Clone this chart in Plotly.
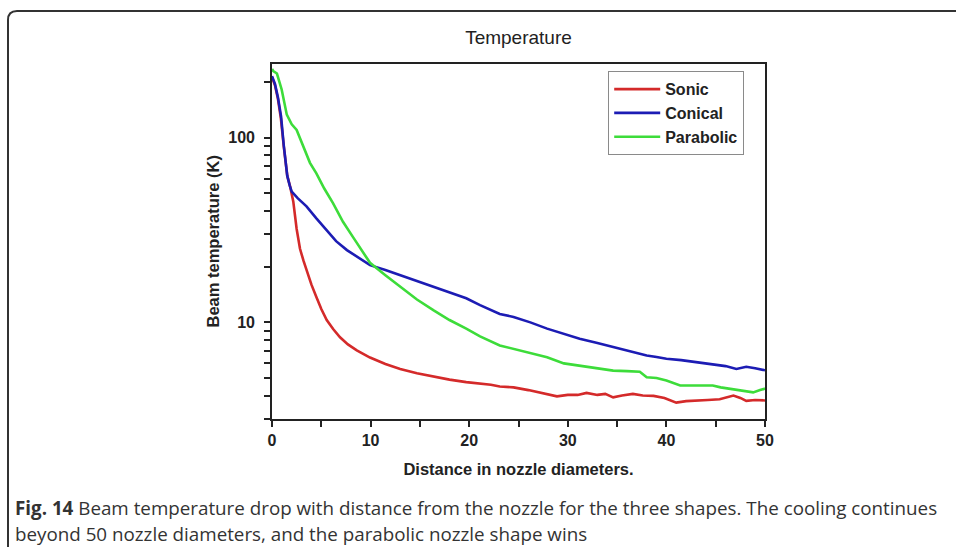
import plotly.graph_objects as go
import math

# ---------------- data ----------------
sonic_x = [0, 0.3, 0.6, 0.9, 1.2, 1.55, 1.85, 2.16, 2.5, 2.84, 3.2, 3.52, 4.0, 4.53, 5.0,
           5.55, 6.2, 6.9, 7.7, 8.6, 9.3, 9.94, 11.5, 13, 14.7, 16.4, 18, 19.7, 21.1, 22.2,
           23.1, 24.5, 26, 27.2, 27.9, 28.9, 30, 31, 31.9, 33, 33.8, 34.6, 35.5, 36.6, 37.6,
           38.7, 39.8, 40.5, 41.0, 42, 43.1, 44.2, 45.4, 46.2, 46.8, 47.5, 48.1, 49, 49.8, 50]
sonic_y = [212, 192, 162, 127, 89, 62, 54, 45, 32, 25, 21.5, 19, 16, 13.6, 11.8,
           10.3, 9.2, 8.3, 7.6, 7.05, 6.7, 6.45, 5.95, 5.6, 5.3, 5.08, 4.9, 4.75, 4.66, 4.6,
           4.5, 4.45, 4.3, 4.15, 4.1, 3.98, 4.05, 4.05, 4.15, 4.05, 4.1, 3.93, 4.02, 4.1, 4.02,
           4.0, 3.9, 3.75, 3.68, 3.75, 3.76, 3.8, 3.84, 3.95, 4.02, 3.9, 3.76, 3.8, 3.76, 3.78]

conical_x = [0, 0.3, 0.6, 0.92, 1.2, 1.55, 1.8, 2.0, 2.6, 3.5, 4.5, 5.5, 6.5, 7.6, 8.8,
             9.94, 11.5, 13, 14.7, 16.4, 18, 19.7, 21.1, 22.2, 23.1, 24.5, 26.2, 27.9, 29.5,
             31.2, 32.9, 34.6, 36.3, 38.0, 39, 40.0, 41.5, 43, 44.7, 46, 47.1, 48.1, 49, 49.8, 50]
conical_y = [215, 195, 165, 130, 90, 62, 55, 51, 47, 42.4, 36.5, 31.6, 27.5, 24.6, 22.3,
             20.4, 19.2, 18.0, 16.8, 15.6, 14.5, 13.5, 12.4, 11.7, 11.1, 10.7, 10.0, 9.25, 8.7,
             8.15, 7.75, 7.35, 7.0, 6.62, 6.5, 6.35, 6.25, 6.1, 5.96, 5.8, 5.6, 5.75, 5.65, 5.5, 5.5]

parabolic_x = [0, 0.13, 0.5, 0.98, 1.5, 2.0, 2.5, 3.2, 3.85, 4.5, 5.3, 6.2, 7.2, 8.2, 8.9,
               9.94, 11.5, 13, 14.7, 16.4, 18, 19.7, 21.1, 23.1, 24.5, 26.2, 27.9, 29.6, 31.2,
               33, 34.6, 36, 37.3, 38.0, 39, 40.0, 41.4, 43, 44.7, 45.5, 46.4, 47.5, 48.8, 49.5, 50]
parabolic_y = [235, 229, 222, 182, 133, 118, 110, 90, 73, 64, 53, 44, 35, 29, 25.5,
               21, 18, 15.6, 13.3, 11.6, 10.3, 9.25, 8.4, 7.5, 7.2, 6.8, 6.48, 6.0, 5.84,
               5.65, 5.48, 5.45, 5.4, 5.05, 5.0, 4.84, 4.55, 4.55, 4.55, 4.45, 4.38, 4.3, 4.18, 4.3, 4.38]

series_names = ["Sonic", "Conical", "Parabolic"]
series_colors = ["#d42a2a", "#1c1cb4", "#3ddc3a"]

x_tickvals = [0, 5, 10, 15, 20, 25, 30, 35, 40, 45, 50]
x_ticktext = ["0", "", "10", "", "20", "", "30", "", "40", "", "50"]
y_tickvals = [3, 4, 5, 6, 7, 8, 9, 10, 20, 30, 40, 50, 60, 70, 80, 90, 100, 200]
y_ticktext = ["" if v not in (10, 100) else str(v) for v in y_tickvals]

title_text = "Temperature"
x_title = "Distance in nozzle diameters."
y_title = "Beam temperature (K)"
caption1 = "<b>Fig. 14</b> Beam temperature drop with distance from the nozzle for the three shapes. The cooling continues"
caption2 = "beyond 50 nozzle diameters, and the parabolic nozzle shape wins"

# ---------------- layout geometry ----------------
W, H = 956, 547
L, R, T, B = 272, 191, 64, 128
PW, PH = W - L - R, H - T - B


def px(xp):
    return (xp - L) / PW


def py(yp):
    return (H - B - yp) / PH


FAM = "Arial, Liberation Sans, sans-serif"

fig = go.Figure()
for xs, ys, name, col in zip([sonic_x, conical_x, parabolic_x],
                             [sonic_y, conical_y, parabolic_y],
                             series_names, series_colors):
    fig.add_trace(go.Scatter(x=xs, y=ys, mode="lines", name=name,
                             line=dict(color=col, width=2.6)))

yr = [math.log10(3), math.log10(250)]
bold16 = dict(family=FAM, size=16, color="#222", weight="bold")

fig.update_layout(
    width=W, height=H,
    margin=dict(l=L, r=R, t=T, b=B),
    paper_bgcolor="white", plot_bgcolor="white",
    font=dict(family=FAM, color="#222"),
    title=dict(text=title_text, x=(L + PW / 2) / W, xanchor="center",
               y=1 - 37 / H, yanchor="middle", yref="container",
               font=dict(family=FAM, size=19, color="#222")),
    xaxis=dict(range=[0, 50], tickvals=x_tickvals, ticktext=x_ticktext,
               showgrid=False, zeroline=False, showline=True, linecolor="#222",
               linewidth=1.6, mirror=True, ticks="outside", ticklen=6, tickwidth=1.5,
               tickcolor="#222", tickfont=bold16,
               title=dict(text=x_title, font=dict(family=FAM, size=16.5, color="#222", weight="bold"),
                          standoff=15)),
    yaxis=dict(type="log", range=yr, tickvals=y_tickvals, ticktext=y_ticktext,
               showgrid=False, zeroline=False, showline=True, linecolor="#222",
               linewidth=1.6, mirror=True, ticks="outside", ticklen=6, tickwidth=1.5,
               tickcolor="#222", ticklabelstandoff=6, tickfont=bold16),
    xaxis2=dict(overlaying="x", anchor="y", side="top", range=[0, 50], tickvals=x_tickvals,
                showticklabels=False, ticks="inside", ticklen=6, tickwidth=1.5, tickcolor="#222",
                showgrid=False, zeroline=False, showline=False),
    yaxis2=dict(overlaying="y", anchor="x", side="right", type="log", range=yr,
                tickvals=y_tickvals, showticklabels=False, ticks="inside", ticklen=6,
                tickwidth=1.5, tickcolor="#222", showgrid=False, zeroline=False, showline=False),
    legend=dict(x=px(608), y=py(71), xanchor="left", yanchor="top",
                bgcolor="white", bordercolor="#8a8a8a", borderwidth=1.2,
                font=dict(family=FAM, size=16, color="#222", weight="bold"),
                itemwidth=46, tracegroupgap=0),
    showlegend=True,
)

# y-axis title placed where the reference has it
fig.add_annotation(text=y_title, x=px(212), y=0.5, xref="paper", yref="paper",
                   xanchor="center", yanchor="middle", textangle=-90, showarrow=False,
                   font=dict(family=FAM, size=16.5, color="#222", weight="bold"))

# rounded frame of the figure panel
path = (f"M {px(8)},{py(560)} L {px(8)},{py(20)} "
        f"Q {px(8)},{py(11)} {px(17)},{py(11)} L {px(970)},{py(11)}")
fig.add_shape(type="path", path=path, xref="paper", yref="paper",
              line=dict(color="#333", width=2), layer="above")

cap_font = dict(family="Open Sans, Noto Sans, sans-serif", size=18.8, color="#333")
fig.add_annotation(text=caption1, x=px(13), y=py(508), xref="paper", yref="paper",
                   xanchor="left", yanchor="middle", showarrow=False, font=cap_font)
fig.add_annotation(text=caption2, x=px(13), y=py(534), xref="paper", yref="paper",
                   xanchor="left", yanchor="middle", showarrow=False, font=cap_font)

fig.write_html("out.html")
